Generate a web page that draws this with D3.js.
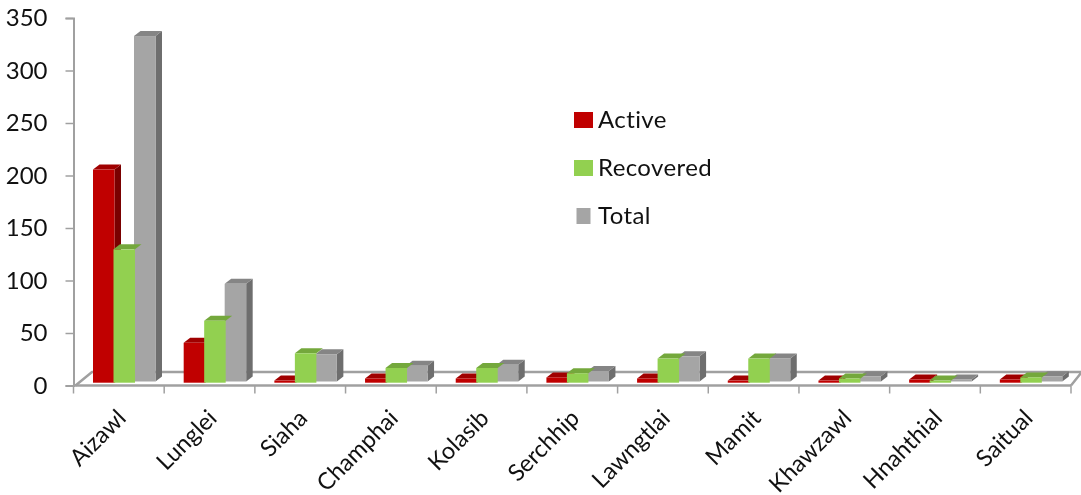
<!DOCTYPE html>
<html><head><meta charset="utf-8">
<script src="https://cdn.jsdelivr.net/npm/d3@7"></script>
<style>html,body{margin:0;background:#fff}svg{display:block;filter:blur(0.5px)}text{font-family:Lato,sans-serif;fill:#111}</style>
</head><body><svg id="c" width="1081" height="495"></svg>
<script>
const categories=["Aizawl","Lunglei","Siaha","Champhai","Kolasib","Serchhip","Lawngtlai","Mamit","Khawzawl","Hnahthial","Saitual"];
const active=[203,38,2,4,4,5,4,2,2,3,3];
const recovered=[127,59,28,14,14,9,23,23,4,2,5];
const total=[329,93,26,15,16,10,24,22,5,2,5];
const seriesNames=["Active","Recovered","Total"];
const colors=[["#c00000","#a00000","#7a0000"],["#92d050","#74a83c","#6f9f3c"],["#a5a5a5","#858585","#6e6e6e"]];
const yTicks=[0,50,100,150,200,250,300,350];
const svg=d3.select("#c");
const x=d3.scaleBand().domain(categories).range([73.5,1071]);
const y=d3.scaleLinear().domain([0,350]).range([385.5,18]);
const bases=[382.7,382.7,381.5], dx=6.5, dy=5;
const h=v=>y(0)-y(v);
const inner=d3.scalePoint().domain(seriesNames).range([19.5,60.5]);
const barW=21.5;
const axisCol="#a0a0a0";
svg.append("path").attr("fill","none").attr("stroke",axisCol).attr("stroke-width",2.5)
 .attr("d",`M${x.range()[0]+2},${y(0)}L92,372L1081,372M${x.range()[1]},${y(0)}L1081,373`);
const gy=svg.append("g").attr("transform","translate(73.5,0)").call(d3.axisLeft(y).tickValues(yTicks).tickSize(8).tickFormat(d3.format("d")));
const xTicks=categories.map(c=>x(c)).concat([x.range()[1]]);
const gx=svg.append("g");
gx.selectAll("line").data(xTicks).join("line").attr("x1",d=>d).attr("x2",d=>d).attr("y1",y(0)).attr("y2",y(0)+8).attr("stroke",axisCol).attr("stroke-width",1.5);
gx.append("line").attr("x1",x.range()[0]).attr("x2",x.range()[1]).attr("y1",y(0)).attr("y2",y(0)).attr("stroke",axisCol).attr("stroke-width",2.5);
gy.selectAll("path").attr("stroke",axisCol).attr("stroke-width",2);
gy.selectAll("line").attr("stroke",axisCol).attr("stroke-width",1.5);
gy.selectAll("text").attr("font-size",24).attr("x",-26).style("fill","#111");
// paint order: Total, then Active, then Recovered in front of both
[[total,2],[active,0],[recovered,1]].forEach(([vals,si])=>{
  const name=seriesNames[si], col=colors[si], base=bases[si];
  const g=svg.append("g");
  vals.forEach((v,i)=>{
    const x0=x(categories[i])+inner(name), w=barW, t=base-h(v);
    if(si!==1) g.append("path").attr("fill",col[2]).attr("d",`M${x0+w},${t}l${dx},${-dy}V${base-dy}l${-dx},${dy}Z`);
    g.append("path").attr("fill",col[1]).attr("d",`M${x0},${t}l${dx},${-dy}h${w}l${-dx},${dy}Z`);
    g.append("rect").attr("x",x0).attr("y",t).attr("width",w).attr("height",h(v)).attr("fill",col[0]);
  });
});
svg.append("g").selectAll("text").data(categories).join("text")
 .attr("font-size",23.5).attr("text-anchor","end")
 .attr("transform",c=>`translate(${x(c)+x.bandwidth()/2-3},${408}) rotate(-45)`)
 .attr("dy","0.7em").text(c=>c);
const legendY=[120,168,216], legendW=[19,19,14];
seriesNames.forEach((n,i)=>{
  svg.append("rect").attr("x",583.5-legendW[i]/2).attr("y",legendY[i]-8).attr("width",legendW[i]).attr("height",16).attr("fill",colors[i][0]);
  svg.append("text").attr("x",598).attr("y",legendY[i]+8).attr("font-size",24).attr("letter-spacing",0.4).text(n);
});
</script></body></html>
